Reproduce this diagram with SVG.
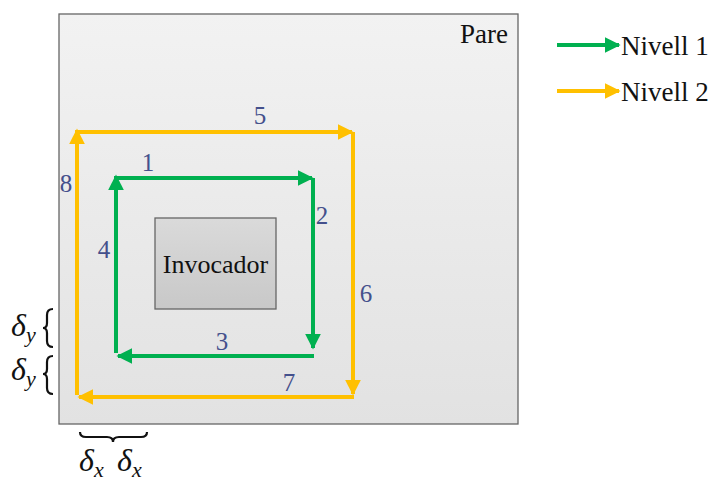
<svg xmlns="http://www.w3.org/2000/svg" width="713" height="482" viewBox="0 0 713 482">
<style>
.num{font-family:"Liberation Serif","DejaVu Serif",serif;font-size:25px;fill:#44508c}
.lbl{font-family:"Liberation Serif","DejaVu Serif",serif;font-size:27px;fill:#111}
.math{font-family:"Liberation Serif","DejaVu Serif",serif;font-style:italic;font-size:32px;fill:#111}
.sub{font-size:22px}
.g{stroke:#00b050;stroke-width:4;fill:none}
.y{stroke:#ffc000;stroke-width:4;fill:none}
.brace{stroke:#111;stroke-width:2.2;fill:none}
</style>
<defs>
<linearGradient id="bg" x1="0" y1="0" x2="0" y2="1"><stop offset="0" stop-color="#f2f2f2"/><stop offset="1" stop-color="#e2e2e2"/></linearGradient>
<linearGradient id="inv" x1="0" y1="0" x2="0" y2="1"><stop offset="0" stop-color="#dadada"/><stop offset="1" stop-color="#c8c8c8"/></linearGradient>
<marker id="ag" viewBox="0 0 10 10" refX="9" refY="5" markerWidth="4" markerHeight="4.2" orient="auto" markerUnits="strokeWidth"><path d="M0,0 L10,5 L0,10 z" fill="#00b050"/></marker>
<marker id="ay" viewBox="0 0 10 10" refX="9" refY="5" markerWidth="4" markerHeight="4.2" orient="auto" markerUnits="strokeWidth"><path d="M0,0 L10,5 L0,10 z" fill="#ffc000"/></marker>
</defs>
<g id="pare">
<rect x="59" y="14" width="459" height="410" fill="url(#bg)" stroke="#666" stroke-width="1.3"/>
<text class="lbl" x="508" y="43" text-anchor="end">Pare</text>
</g>
<g id="invocador">
<rect x="155" y="218" width="121" height="91" fill="url(#inv)" stroke="#666" stroke-width="1.3"/>
<text class="lbl" x="215.5" y="273" text-anchor="middle" style="font-size:26px">Invocador</text>
</g>
<g id="connectors">
<line class="g" x1="116" y1="178" x2="312" y2="178" marker-end="url(#ag)"/>
<line class="g" x1="313" y1="178" x2="313" y2="348" marker-end="url(#ag)"/>
<line class="g" x1="314" y1="356" x2="118" y2="356" marker-end="url(#ag)"/>
<line class="g" x1="116" y1="353" x2="116" y2="176" marker-end="url(#ag)"/>
<line class="y" x1="75" y1="132" x2="352" y2="132" marker-end="url(#ay)"/>
<line class="y" x1="353" y1="132" x2="353" y2="394" marker-end="url(#ay)"/>
<line class="y" x1="354" y1="397" x2="79" y2="397" marker-end="url(#ay)"/>
<line class="y" x1="77" y1="395" x2="77" y2="130" marker-end="url(#ay)"/>
</g>
<g id="numbers">
<text class="num" x="148" y="171" text-anchor="middle">1</text>
<text class="num" x="322" y="224" text-anchor="middle">2</text>
<text class="num" x="222" y="350" text-anchor="middle">3</text>
<text class="num" x="104" y="258" text-anchor="middle">4</text>
<text class="num" x="260" y="124" text-anchor="middle">5</text>
<text class="num" x="366" y="302" text-anchor="middle">6</text>
<text class="num" x="289" y="391" text-anchor="middle">7</text>
<text class="num" x="66" y="192" text-anchor="middle">8</text>
</g>
<g id="legend">
<line class="g" x1="557" y1="45" x2="619" y2="45" marker-end="url(#ag)"/>
<text class="lbl" x="621" y="55">Nivell 1</text>
<line class="y" x1="557" y1="91" x2="619" y2="91" marker-end="url(#ay)"/>
<text class="lbl" x="621" y="101">Nivell 2</text>
</g>
<g id="deltas">
<text class="math" x="11" y="336">δ<tspan class="sub" dy="6">y</tspan></text>
<text class="math" x="11" y="380">δ<tspan class="sub" dy="6">y</tspan></text>
<path class="brace" d="M53,309 Q47,309 47,315 L47,323 Q47,328 43,328 Q47,328 47,333 L47,341 Q47,347 53,347"/>
<path class="brace" d="M53,356 Q47,356 47,362 L47,369 Q47,374 43,374 Q47,374 47,379 L47,388 Q47,394 53,394"/>
<path class="brace" d="M80,432 Q80,437 86,437 L107,437 Q113,437 113,442 Q113,437 119,437 L141,437 Q147,437 147,432"/>
<text class="math" x="79" y="471">δ<tspan class="sub" dy="6">x</tspan></text>
<text class="math" x="117" y="471">δ<tspan class="sub" dy="6">x</tspan></text>
</g>
</svg>
